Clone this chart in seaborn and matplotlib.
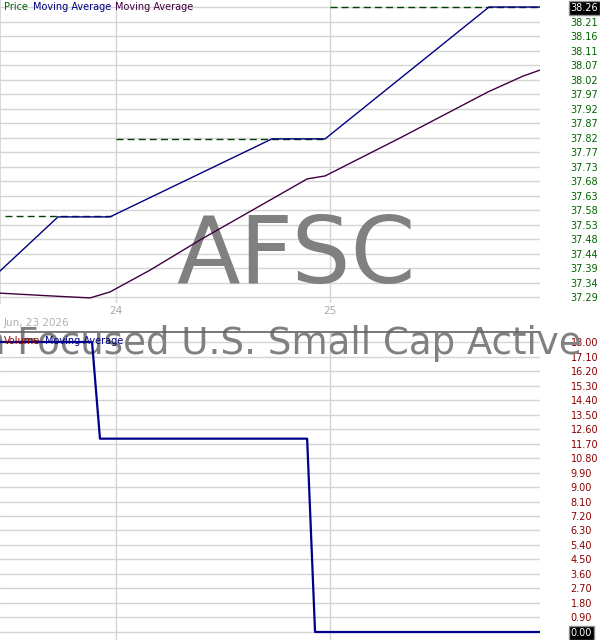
import seaborn as sns
import matplotlib.pyplot as plt
import numpy as np
import pandas as pd

sns.set_theme(style="white")
plt.rcParams['font.family'] = ['DejaVu Sans']

# --- data (x = day of month, fractional) ---
price_start = [23.48, 24.0, 25.0]
price_end = [24.0, 24.98, 25.98]
price = [37.56, 37.82, 38.26]

fast_ma_day = [23.458, 23.729, 23.972, 24.729, 24.977, 25.743, 25.981]
fast_ma = [37.377, 37.558, 37.558, 37.819, 37.819, 38.26, 38.26]

slow_ma_day = [23.458, 23.715, 23.879, 23.972, 24.159, 24.393, 24.729, 24.893,
               24.977, 25.327, 25.738, 25.902, 25.981]
slow_ma = [37.303, 37.293, 37.287, 37.307, 37.380, 37.481, 37.618, 37.685,
           37.695, 37.822, 37.976, 38.029, 38.049]

vol_ma_day = [23.458, 23.888, 23.925, 24.893, 24.930, 25.981]
vol_ma = [18.0, 18.0, 12.0, 12.0, 0.0, 0.0]

price_labels = ["37.29", "37.34", "37.39", "37.44", "37.48", "37.53", "37.58",
                "37.63", "37.68", "37.73", "37.77", "37.82", "37.87", "37.92",
                "37.97", "38.02", "38.07", "38.11", "38.16", "38.21", "38.26"]
vol_labels = ["0.00", "0.90", "1.80", "2.70", "3.60", "4.50", "5.40", "6.30",
              "7.20", "8.10", "9.00", "9.90", "10.80", "11.70", "12.60",
              "13.50", "14.40", "15.30", "16.20", "17.10", "18.00"]
day_ticks = [24, 25]

GRID = "#d4d4d4"
W, H = 600, 640

fig = plt.figure(figsize=(6, 6.4), dpi=100)
ax1 = fig.add_axes([0, 1 - 303 / H, 540 / W, 303 / H])
ax2 = fig.add_axes([0, 0, 540 / W, (H - 332) / H])

xlim = (23.458, 25.981)

# --- price panel ---
ax1.hlines(price, price_start, price_end, colors="#004000", linestyles=(0, (5, 3)), lw=1, zorder=2)
sns.lineplot(x=fast_ma_day, y=fast_ma, ax=ax1, color="#000080", lw=1, zorder=3)
sns.lineplot(x=slow_ma_day, y=slow_ma, ax=ax1, color="#400040", lw=1, zorder=3)
ax1.set_xlim(*xlim)
ax1.set_ylim(38.26 - 296 / 299, 38.26 + 7 / 299)
pticks = np.linspace(37.29, 38.26, len(price_labels))
ax1.set_yticks(pticks)
ax1.set_yticklabels(price_labels)
ax1.yaxis.tick_right()
ax1.tick_params(axis="y", length=0, pad=22, labelsize=7, labelcolor="#006400")
ax1.set_xticks(day_ticks)
ax1.set_xticklabels([str(d) for d in day_ticks])
ax1.tick_params(axis="x", length=0, pad=2, labelsize=7.5, labelcolor="#a8a8a8")
last = ax1.get_yticklabels()[-1]
last.set_color("white")
last.set_bbox(dict(facecolor="black", edgecolor="#909090", pad=1.2, lw=1))
ax1.grid(True, color=GRID, lw=1)
ax1.set_axisbelow(True)
for s in ["top", "right", "bottom"]:
    ax1.spines[s].set_visible(False)
ax1.spines["left"].set_color(GRID)

ax1.text(296 / W, 1 - 283 / H, "AFSC", transform=fig.transFigure, ha="center",
         va="baseline", fontsize=67, color="#808080", zorder=1)

fig.text(4 / W, 1 - 7 / H, "Price", color="#006400", fontsize=7, va="center")
fig.text(33 / W, 1 - 7 / H, "Moving Average", color="#000080", fontsize=7, va="center")
fig.text(115 / W, 1 - 7 / H, "Moving Average", color="#400040", fontsize=7, va="center")

fig.text(4 / W, 1 - 323 / H, "Jun, 23 2026", color="#b0b0b0", fontsize=7.5, va="center")

# --- volume panel ---
sns.lineplot(x=vol_ma_day, y=vol_ma, ax=ax2, color="#00008b", lw=1.6, zorder=3)
ax2.set_xlim(*xlim)
ax2.set_ylim(-8 / 16.11, 18 + 10 / 16.11)
vticks = np.linspace(0, 18, len(vol_labels))
ax2.set_yticks(vticks)
ax2.set_yticklabels(vol_labels)
ax2.yaxis.tick_right()
ax2.tick_params(axis="y", length=0, pad=22, labelsize=7, labelcolor="#8b0000")
ax2.set_xticks(day_ticks)
ax2.set_xticklabels([])
ax2.tick_params(axis="x", length=0)
last = ax2.get_yticklabels()[0]
last.set_color("white")
last.set_bbox(dict(facecolor="black", edgecolor="#909090", pad=1.2, lw=1))
ax2.grid(True, color=GRID, lw=1)
ax2.set_axisbelow(True)
for s in ["right", "bottom", "left"]:
    ax2.spines[s].set_visible(False)
ax2.spines["top"].set_color("#606060")
ax2.spines["top"].set_linewidth(1.2)

ax2.text(582 / W, 1 - 354 / H, "n Focused U.S. Small Cap Active", transform=fig.transFigure,
         ha="right", va="baseline", fontsize=26.7, color="#808080", zorder=1)

fig.text(4 / W, 1 - 341 / H, "Volume", color="#8b0000", fontsize=7, va="center", zorder=5)
fig.text(45 / W, 1 - 341 / H, "Moving Average", color="#000080", fontsize=7, va="center", zorder=5)

fig.savefig("out.png", dpi=100)
